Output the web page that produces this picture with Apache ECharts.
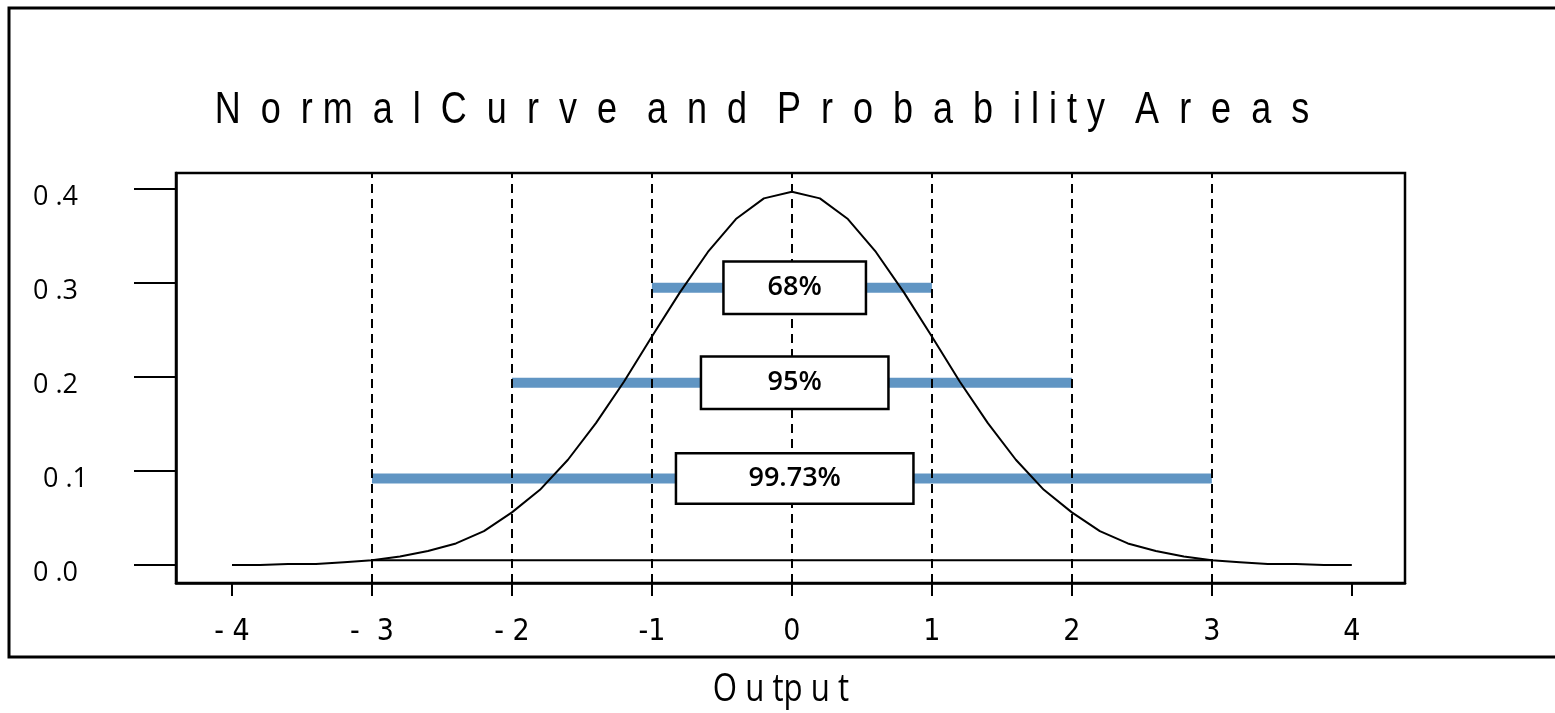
<!DOCTYPE html>
<html>
<head>
<meta charset="utf-8">
<script src="https://cdn.jsdelivr.net/npm/echarts@6/dist/echarts.min.js"></script>
<style>
html,body{margin:0;padding:0;background:#fff;}
#chart{width:1555px;height:713px;}
</style>
</head>
<body>
<div id="chart"></div>
<script>
// ---- data ----
const titleText = 'N  o  r m  a  l  C  u  r  v  e   a  n  d   P  r  o  b  a  b  i l i t y   A  r  e  a  s';
const xAxisName = 'O u tp u t';
const xTickValues = [-4, -3, -2, -1, 0, 1, 2, 3, 4];
const xTickLabels = ['- 4', '-  3', '- 2', '-1', '0', '1', '2', '3', '4'];
const yTickValues = [0, 0.1, 0.2, 0.3, 0.4];
const yTickLabels = ['0 .0', '0 .1', '0 .2', '0 .3', '0 .4'];
const curveX = [-4, -3.8, -3.6, -3.4, -3.2, -3, -2.8, -2.6, -2.4, -2.2, -2, -1.8, -1.6, -1.4, -1.2, -1, -0.8, -0.6, -0.4, -0.2, 0,
                0.2, 0.4, 0.6, 0.8, 1, 1.2, 1.4, 1.6, 1.8, 2, 2.2, 2.4, 2.6, 2.8, 3, 3.2, 3.4, 3.6, 3.8, 4];
const curveY = [0.000, 0.000, 0.001, 0.001, 0.003, 0.005, 0.009, 0.015, 0.023, 0.036, 0.056, 0.080, 0.112, 0.151, 0.195, 0.243, 0.290, 0.333, 0.368, 0.390, 0.397,
                0.390, 0.368, 0.333, 0.290, 0.243, 0.195, 0.151, 0.112, 0.080, 0.056, 0.036, 0.023, 0.015, 0.009, 0.005, 0.003, 0.001, 0.001, 0.000, 0.000];
const baseLineX = [-3, 3];
const baseLineY = 0.005;
const sigmaLines = [-3, -2, -1, 0, 1, 2, 3];
const bandLabels = ['68%', '95%', '99.73%'];
const bandLow = [-1, -2, -3];
const bandHigh = [1, 2, 3];
const bandLevel = [0.295, 0.194, 0.092];
const bandLabelX = 0.02;

// ---- styles ----
const boxW = [140, 185, 235];
const boxH = [50, 50, 48];
const blue = '#6095c3';

const chart = echarts.init(document.getElementById('chart'), null, {renderer: 'canvas'});

const series = [];
bandLabels.forEach((lab, i) => {
  series.push({
    type: 'line', z: 2, silent: true, symbol: 'none',
    lineStyle: {color: blue, width: 10, cap: 'butt'},
    data: [[bandLow[i], bandLevel[i]], [bandHigh[i], bandLevel[i]]]
  });
});
series.push({
  type: 'line', z: 3, silent: true, symbol: 'none',
  lineStyle: {color: '#000', width: 2},
  data: curveX.map((x, i) => [x, curveY[i]])
});
series.push({
  type: 'line', z: 3, silent: true, symbol: 'none',
  lineStyle: {color: '#000', width: 2},
  data: baseLineX.map(x => [x, baseLineY]),
  markLine: {
    silent: true, symbol: 'none', label: {show: false}, z: 4,
    lineStyle: {color: '#000', width: 2, type: [9, 6]},
    data: sigmaLines.map(v => ({xAxis: v}))
  }
});
series.push({
  type: 'scatter', z: 10, silent: true, symbol: 'rect', symbolSize: 1,
  itemStyle: {color: '#fff', opacity: 1},
  data: bandLabels.map((lab, i) => ({
    value: [bandLabelX, bandLevel[i]],
    label: {
      show: true, position: 'inside', formatter: lab, opacity: 1,
      width: boxW[i], height: boxH[i], lineHeight: boxH[i],
      align: 'center', verticalAlign: 'middle',
      backgroundColor: '#fff', borderColor: '#000', borderWidth: 2.5,
      color: '#000', fontFamily: '"Open Sans", sans-serif', fontWeight: 600, fontSize: 27
    }
  }))
});

const option = {
  backgroundColor: '#fff',
  animation: false,
  grid: {left: 176, right: 150, top: 173, bottom: 130, show: true, borderColor: '#000', borderWidth: 2.5},
  xAxis: {
    type: 'value', min: -4.4, max: 4.38,
    axisLine: {show: true, onZero: false, lineStyle: {color: '#000', width: 2.5}},
    axisTick: {show: true, length: 13, customValues: xTickValues, lineStyle: {color: '#000', width: 2}},
    axisLabel: {
      customValues: xTickValues, margin: 34,
      formatter: v => xTickLabels[xTickValues.indexOf(v)],
      color: '#000', fontSize: 30,
      fontFamily: '"Liberation Sans Narrow", "DejaVu Sans Condensed", sans-serif'
    },
    splitLine: {show: false}
  },
  yAxis: {
    type: 'value', min: -0.0191, max: 0.417,
    axisLine: {show: true, onZero: false, lineStyle: {color: '#000', width: 2.5}},
    axisTick: {show: true, length: 42, customValues: yTickValues, lineStyle: {color: '#000', width: 2}},
    axisLabel: {
      customValues: yTickValues, margin: 143, align: 'left',
      formatter: v => {
        const i = yTickValues.findIndex(t => Math.abs(t - v) < 1e-9);
        return i === 1 ? '{b|' + yTickLabels[i] + '}' : '{a|' + yTickLabels[i] + '}';
      },
      rich: {
        a: {color: '#000', fontSize: 27, fontFamily: '"Open Sans", sans-serif', padding: [16, 0, 0, 0]},
        b: {color: '#000', fontSize: 27, fontFamily: '"Open Sans", sans-serif', padding: [16, 0, 0, 10]}
      }
    },
    splitLine: {show: false}
  },
  graphic: [
    {type: 'rect', z: -1, silent: true, shape: {x: 9, y: 8, width: 1560, height: 649},
     style: {fill: 'none', stroke: '#000', lineWidth: 3}},
    {type: 'text', x: 762, y: 111, scaleX: 0.8, silent: true,
     style: {text: titleText, fill: '#000', font: '45px "Liberation Sans Narrow", "Liberation Sans", sans-serif',
             textAlign: 'center', textVerticalAlign: 'middle'}},
    {type: 'text', x: 781, y: 690, scaleX: 0.8, silent: true,
     style: {text: xAxisName, fill: '#000', font: '39px "Open Sans", sans-serif',
             textAlign: 'center', textVerticalAlign: 'middle'}}
  ],
  series: series
};
chart.setOption(option);
</script>
</body>
</html>
